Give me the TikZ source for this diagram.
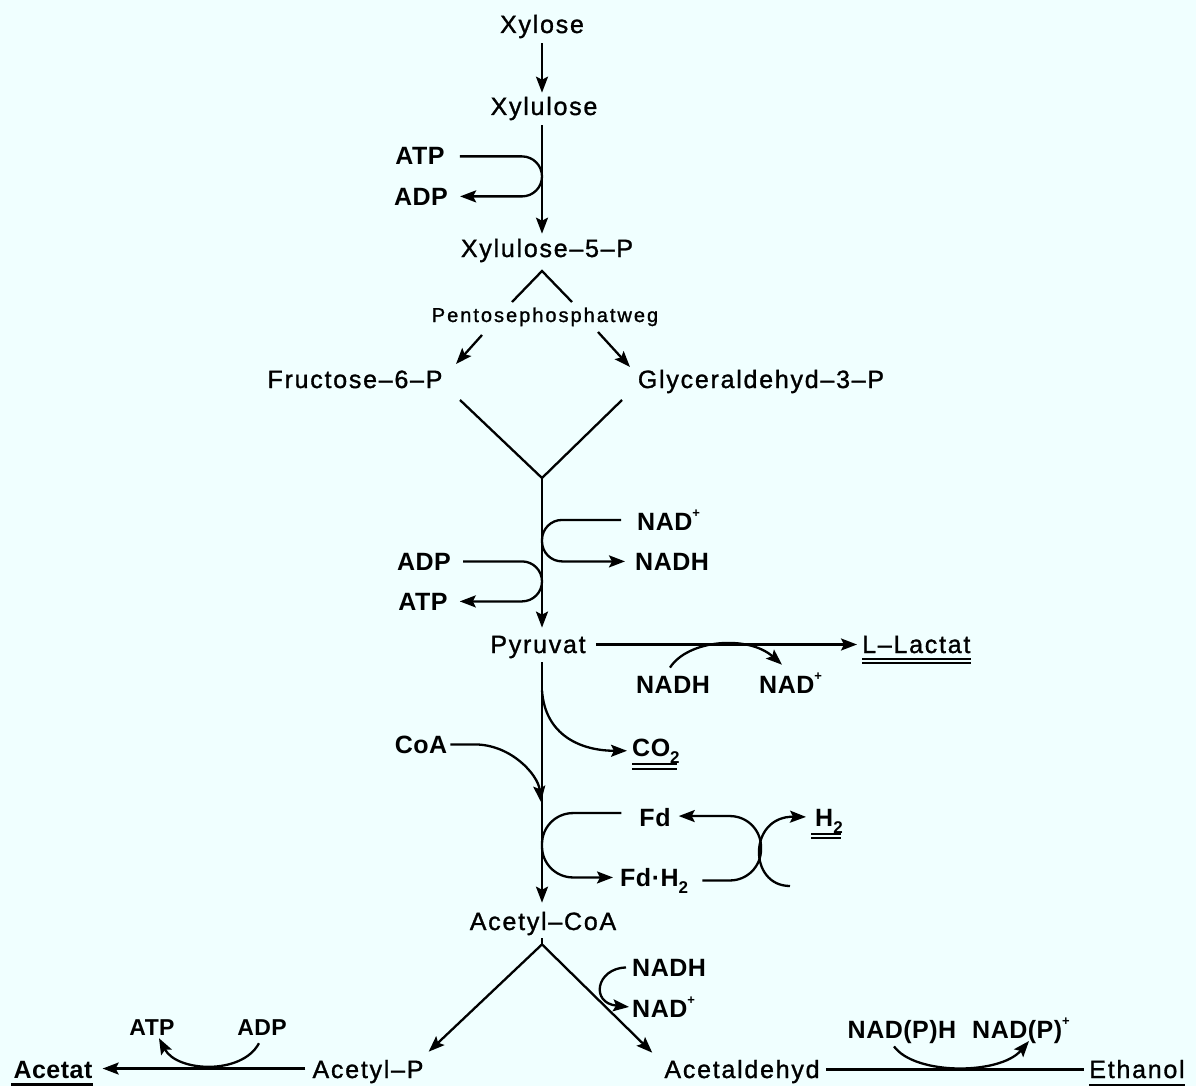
\documentclass[tikz,border=0pt]{standalone}
\usepackage{fontspec}
\setmainfont{Liberation Sans}
\newfontfamily\metfont{Liberation Sans}[LetterSpace=7,FakeBold=1.2]
\newfontfamily\coffont{Liberation Sans}[LetterSpace=2]
\newfontfamily\pathfont{Liberation Sans}[LetterSpace=10,FakeBold=1.2]
\usetikzlibrary{arrows.meta,calc}
\definecolor{bgcol}{RGB}{240,255,255}
\newcommand{\sps}{\raisebox{0.5em}{\fontsize{13}{13}\selectfont\bfseries +}}
\newcommand{\sbs}[1]{\raisebox{-0.28em}{\fontsize{17}{17}\selectfont #1}}
\begin{document}
\begin{tikzpicture}[x=1pt,y=-1pt,
  met/.style={font=\metfont\fontsize{25}{30}\selectfont, inner sep=0pt, anchor=base},
  metb/.style={font=\coffont\bfseries\fontsize{25}{30}\selectfont, inner sep=0pt, anchor=base},
  cof/.style={font=\coffont\bfseries\fontsize{25}{30}\selectfont, inner sep=0pt, anchor=base},
  cofs/.style={font=\coffont\bfseries\fontsize{23}{27}\selectfont, inner sep=0pt, anchor=base},
  pw/.style={font=\pathfont\fontsize{20}{23}\selectfont, inner sep=0pt, anchor=base},
  ln/.style={line width=2.3pt},
  arr/.style={ln,-{Stealth[length=16pt,width=12pt,inset=3pt]}},
  ul/.style={line width=1.7pt}
]
\fill[bgcol] (0,0) rectangle (1196,1086);
\useasboundingbox (0,0) rectangle (1196,1086);
\coordinate (m) at (542,0);
\coordinate (fx) at (761,0);

% nodes
\node[met] (xylose) at (542,33) {Xylose};
\node[met] (xylulose) at (544,115) {Xylulose};
\node[cof] (atp1) at (420,165) {ATP};
\node[cof] (adp1) at (421,205) {ADP};
\node[met] (x5p) at (547,257) {Xylulose–5–P};
\node[pw] (ppw) at (545,322) {Pentosephosphatweg};
\node[met] (f6p) at (355,388) {Fructose–6–P};
\node[met] (g3p) at (761,388) {Glyceraldehyd–3–P};
\node[cof, anchor=base west] (nad1) at (637,530) {NAD\sps};
\node[cof, anchor=base west] (nadh1) at (635,570) {NADH};
\node[cof] (adp2) at (424,570) {ADP};
\node[cof] (atp2) at (423,610) {ATP};
\node[met] (pyr) at (538,653) {Pyruvat};
\node[met, anchor=base west] (lac) at (862,653) {L–Lactat};
\node[cof] (nadh2) at (673,693) {NADH};
\node[cof, anchor=base west] (nad2) at (759,693) {NAD\sps};
\node[metb, anchor=base west] (co2) at (632,756) {CO\sbs{2}};
\node[cof] (coa) at (421,753) {CoA};
\node[cof] (fd) at (655,826) {Fd};
\node[cof, anchor=base west] (fdh2) at (620,886) {Fd·H\sbs{2}};
\node[cof, anchor=base west] (h2) at (815,826) {H\sbs{2}};
\node[met] (acoa) at (543,930) {Acetyl–CoA};
\node[cof, anchor=base west] (nadh3) at (632,976) {NADH};
\node[cof, anchor=base west] (nad3) at (632,1017) {NAD\sps};
\node[met] (acp) at (368,1078) {Acetyl–P};
\node[metb] (acetat) at (53,1078) {Acetat};
\node[cofs] (atp3) at (152,1035) {ATP};
\node[cofs] (adp3) at (262,1035) {ADP};
\node[met] (acald) at (742,1078) {Acetaldehyd};
\node[met] (ethanol) at (1137,1078) {Ethanol};
\node[cof] (nadph) at (902,1038) {NAD(P)H};
\node[cof, anchor=base west] (nadp) at (972,1038) {NAD(P)\sps};

% main chain top
\draw[arr, shorten <=5pt, shorten >=4pt] (xylose.south -| m) -- (xylulose.north -| m);
\draw[arr, shorten <=5pt, shorten >=5pt] (xylulose.south -| m) -- (x5p.north -| m);
\draw[arr, rounded corners=20pt] ([xshift=15pt]atp1.east) -- (atp1.east -| m) -- (adp1.east -| m) -- ([xshift=12pt]adp1.east);

% pentose phosphate split
\coordinate (c1) at (512,302);
\coordinate (c2) at (542,271);
\coordinate (c3) at (572,302);
\draw[ln] (c1) -- (c2) -- (c3);
\coordinate (p1) at (482,335);
\coordinate (p2) at (598,332);
\draw[arr] (p1) -- (456,364);
\draw[arr] (p2) -- (630,367);

% V join
\coordinate (v1) at (460,400);
\coordinate (va) at (542,478);
\coordinate (v2) at (622,400);
\draw[ln] (v1) -- (va) -- (v2);
\draw[arr, shorten >=8pt] (va) -- (pyr.north -| m);

% NAD+/NADH and ADP/ATP loops
\draw[arr, rounded corners=20pt] ([xshift=-16pt]nad1.west) -- (nad1.west -| m) -- (nadh1.west -| m) -- ([xshift=-10pt]nadh1.west);
\draw[arr, rounded corners=20pt] ([xshift=12pt]adp2.east) -- (adp2.east -| m) -- (atp2.east -| m) -- ([xshift=12pt]atp2.east);

% Pyruvat -> L-Lactat
\coordinate (pl) at ([xshift=10pt,yshift=2.5pt]pyr.east);
\draw[arr, shorten >=5pt] (pl) -- (pl -| lac.west);
\draw[arr] ([xshift=-3pt,yshift=8pt]nadh2.north) .. controls +(18,-28) and +(-34,-30) .. ([xshift=23pt,yshift=8pt]nad2.north west);
\draw[ul] ($(lac.base west)+(0,6)$) -- ($(lac.base east)+(0,6)$);
\draw[ul] ($(lac.base west)+(0,10)$) -- ($(lac.base east)+(0,10)$);

% Pyruvat -> Acetyl-CoA
\draw[arr, shorten <=4pt, shorten >=9pt] (pyr.south -| m) -- (acoa.north -| m);
\draw[arr] ($(pyr.south -| m)+(0,32)$) .. controls +(3,45) and +(-46,0) .. ([xshift=-5pt]co2.west);
\draw[ul] ($(co2.base west)+(0,8)$) -- ($(co2.base east)+(-3,8)$);
\draw[ul] ($(co2.base west)+(0,13)$) -- ($(co2.base east)+(-3,13)$);
\coordinate (coaend) at (541,802);
\draw[arr] ([xshift=3pt]coa.east) -- ++(24,0) .. controls +(37,0) and +(-3,-27) .. (coaend);

% ferredoxin
\coordinate (fdA) at ([xshift=-18pt,yshift=4pt]fd.west);
\coordinate (fdB) at ([xshift=-7pt,yshift=3pt]fdh2.west);
\draw[arr, rounded corners=31pt] (fdA) -- (fdA -| m) -- (fdB -| m) -- (fdB);
\coordinate (fhA) at ($(fdh2.east)+(14,0)$);
\coordinate (fhB) at ($(fd.east)+(8,-1)$);
\draw[arr, rounded corners=31pt] (fhA) -- (fhA -| fx) -- (fhB -| fx) -- (fhB);
\coordinate (hs) at (790,886);
\draw[arr] (hs) .. controls (748,886) and (748,816) .. ([xshift=-9pt,yshift=4pt]h2.west);
\draw[ul] ($(h2.base west)+(-4,8)$) -- ($(h2.base east)+(-2,8)$);
\draw[ul] ($(h2.base west)+(-4,12)$) -- ($(h2.base east)+(-2,12)$);

% Acetyl-CoA branches
\coordinate (ap) at ($(acoa.south -| m)+(0,9)$);
\draw[ln] ($(acoa.south -| m)+(0,3)$) -- (ap);
\draw[arr] (ap) -- ([xshift=5pt,yshift=8pt]acp.north east);
\draw[arr] (ap) -- ([xshift=-12pt,yshift=7pt]acald.north west);
\draw[arr] ([xshift=-6pt]nadh3.west) .. controls +(-30,1) and +(-39,-4) .. ([xshift=-3pt]nad3.west);

% Acetyl-P -> Acetat
\coordinate (al) at ($(acp.west)+(-7,-3)$);
\draw[arr, shorten >=10pt] (al) -- (al -| acetat.east);
\draw[arr] ($(adp3.south)+(-3,8)$) .. controls +(-17,32) and +(18,34) .. ($(atp3.south)+(7,3)$);
\draw[line width=4pt] ($(acetat.base west)+(-2,7)$) -- ($(acetat.base east)+(0,7)$);

% Acetaldehyd -> Ethanol
\coordinate (el) at ($(acald.east)+(6,-2)$);
\draw[ln, shorten >=5pt] (el) -- (el -| ethanol.west);
\draw[arr] ($(nadph.south)+(-8,3)$) .. controls +(21,29) and +(-29,34) .. ($(nadp.base west)+(57,3)$);
\draw[line width=2pt] ($(ethanol.base west)+(0,7)$) -- ($(ethanol.base east)+(0,7)$);
\end{tikzpicture}
\end{document}
